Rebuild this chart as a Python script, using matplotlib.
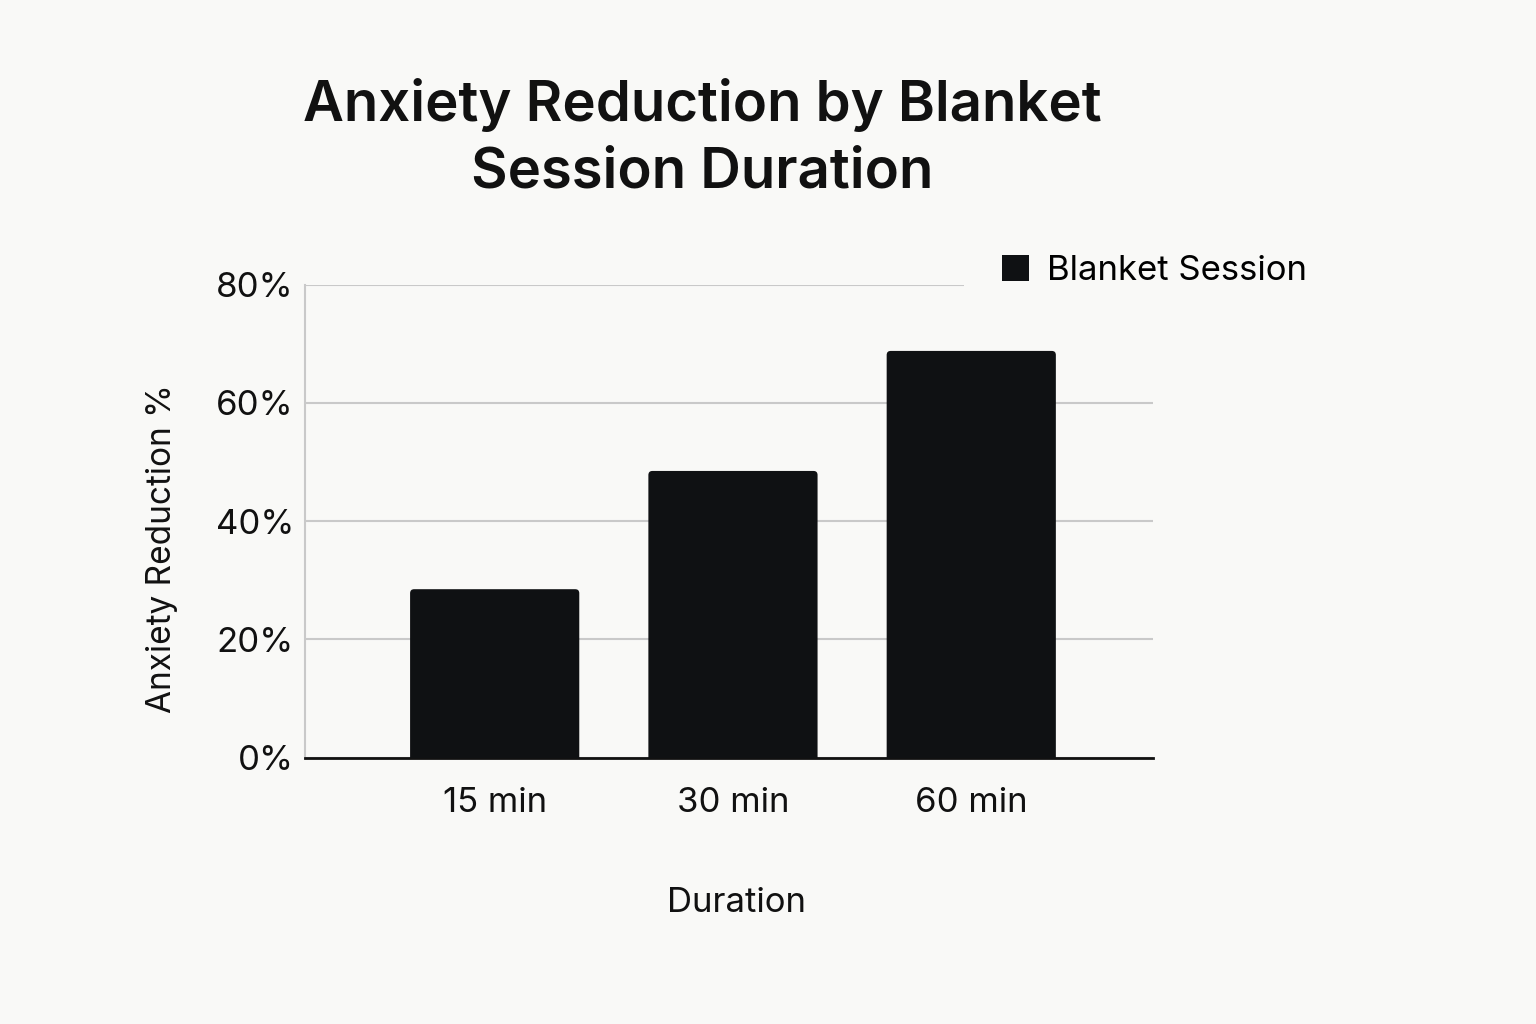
import matplotlib
matplotlib.use("Agg")
import matplotlib.pyplot as plt
from matplotlib.patches import FancyBboxPatch, Patch
from matplotlib.ticker import FuncFormatter

# data
durations = ["15 min", "30 min", "60 min"]
reduction = [28.5, 48.5, 68.8]
series_name = "Blanket Session"

bg = "#f9f9f7"
bar_color = "#0f1113"
grid_color = "#c9c9c9"

plt.rcParams['font.family'] = ['Inter', 'DejaVu Sans']

fig = plt.figure(figsize=(15.36, 10.24), dpi=100, facecolor=bg)
ax = fig.add_axes([305 / 1536, 1 - 757.7 / 1024, 847.6 / 1536, 473 / 1024])
ax.set_facecolor(bg)

x = range(len(durations))
bars = ax.bar(x, reduction, width=0.71, color=bar_color, zorder=3)
ax.set_xlim(-0.796, 2.761)
ax.set_ylim(0, 80)

# rounded corners on the bars (bottom hidden under the axis)
r = 0.017
aspect = (5.9125 ** -1) / (238.25 ** -1)
for b in bars:
    b.set_visible(False)
    bx, by = b.get_xy()
    w, h = b.get_width(), b.get_height()
    fp = FancyBboxPatch((bx, by - 2), w, h + 2,
                        boxstyle=f"round,pad=0,rounding_size={r}",
                        mutation_aspect=aspect, facecolor=bar_color,
                        edgecolor="none", zorder=3)
    ax.add_patch(fp)

ax.set_yticks([0, 20, 40, 60, 80])
ax.yaxis.set_major_formatter(FuncFormatter(lambda v, p: f"{int(v)}%"))
ax.set_xticks(list(x))
ax.set_xticklabels(durations)
ax.tick_params(axis="both", length=0, labelsize=25, colors="#111111")
ax.tick_params(axis="x", pad=21)
ax.tick_params(axis="y", pad=8)

ax.grid(axis="y", color=grid_color, linewidth=1.5, zorder=0)
for s in ["top", "right"]:
    ax.spines[s].set_visible(False)
ax.spines["left"].set_color(grid_color)
ax.spines["left"].set_linewidth(1.5)
ax.spines["bottom"].set_color("#111111")
ax.spines["bottom"].set_linewidth(2)

ax.set_xlabel("Duration", fontsize=25, color="#111111", labelpad=49)
ax.xaxis.label.set_x((737 - 305) / 847.6)
ax.set_ylabel("Anxiety Reduction %", fontsize=24, color="#111111", labelpad=27)
ax.yaxis.label.set_y((757.7 - 549) / 473)

handle = Patch(facecolor=bar_color, edgecolor="none", label=series_name)
leg = ax.legend(handles=[handle], loc="center left",
                bbox_to_anchor=(964 / 1536, 1 - 271 / 1024),
                bbox_transform=fig.transFigure, fontsize=25, frameon=True,
                facecolor=bg, edgecolor="none", framealpha=1, borderpad=1.1,
                borderaxespad=0, handlelength=0.78, handleheight=0.78,
                handletextpad=0.52)
leg.set_zorder(5)

fig.text(702 / 1536, 1 - 78 / 1024, "Anxiety Reduction by Blanket\nSession Duration",
         ha="center", va="top", fontsize=40.5, fontweight="semibold", color="#111111",
         linespacing=1.36)

fig.savefig("out.png", dpi=100, facecolor=bg)
